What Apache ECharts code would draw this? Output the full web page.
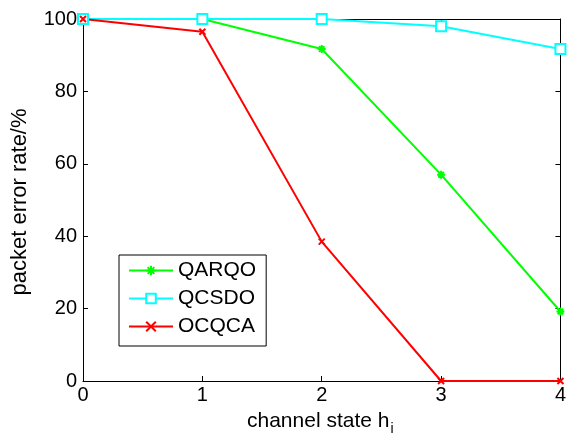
<!DOCTYPE html>
<html><head><meta charset="utf-8">
<script src="https://cdn.jsdelivr.net/npm/echarts@6/dist/echarts.min.js"></script>
<style>html,body{margin:0;padding:0;background:#fff}#c{width:569px;height:438px}</style>
</head><body><div id="c"></div>
<script>
const xValues = [0, 1, 2, 3, 4];
const seriesNames = ['QARQO', 'QCSDO', 'OCQCA'];
const qarqo = [100, 100, 91.7, 57, 19.2];
const qcsdo = [100, 100, 100, 98, 91.7];
const ocqca = [100, 96.5, 38.5, 0, 0];
const yTicks = [0, 20, 40, 60, 80, 100];
const xTicks = [0, 1, 2, 3, 4];

const font = 'Liberation Sans, Arial, sans-serif';
const chart = echarts.init(document.getElementById('c'));
const pair = arr => xValues.map((x, i) => [x, arr[i]]);
const asterisk = 'path://M5,0L5,10M0,5L10,5M1.5,1.5L8.5,8.5M8.5,1.5L1.5,8.5';
const cross = 'path://M0,0L10,10M10,0L0,10';
const baseAxis = {
  axisLine: {show: true, onZero: false, lineStyle: {color: '#000', width: 1}},
  axisTick: {show: true, inside: true, length: 5, lineStyle: {color: '#000'}},
  splitLine: {show: false}
};
chart.setOption({
  animation: false,
  backgroundColor: '#fff',
  grid: {left: 83, right: 5, top: 19, bottom: 57},
  xAxis: [
    Object.assign({type: 'value', min: 0, max: 4, interval: 1, position: 'bottom',
      axisLabel: {color: '#000', fontSize: 20, fontFamily: font, margin: 4}}, baseAxis),
    Object.assign({type: 'value', min: 0, max: 4, interval: 1, position: 'top',
      axisLabel: {show: false}}, baseAxis)
  ],
  yAxis: [
    Object.assign({type: 'value', min: 0, max: 100, interval: 20, position: 'left',
      axisLabel: {color: '#000', fontSize: 20, fontFamily: font, margin: 6}}, baseAxis),
    Object.assign({type: 'value', min: 0, max: 100, interval: 20, position: 'right',
      axisLabel: {show: false}}, baseAxis)
  ],
  legend: {
    orient: 'vertical', left: 119, top: 255,
    borderColor: '#000', borderWidth: 1, backgroundColor: '#fff',
    padding: [5, 10, 9, 9], itemGap: 7, itemWidth: 44, itemHeight: 12,
    textStyle: {color: '#000', fontSize: 21, fontFamily: font},
    data: seriesNames
  },
  series: [
    {name: seriesNames[0], type: 'line', data: pair(qarqo), symbol: asterisk, symbolSize: 8,
      lineStyle: {color: '#00ff00', width: 2}, itemStyle: {color: '#00ff00', borderColor: '#00ff00', borderWidth: 2}},
    {name: seriesNames[1], type: 'line', data: pair(qcsdo), symbol: 'rect', symbolSize: 10,
      lineStyle: {color: '#00ffff', width: 2}, itemStyle: {color: '#fff', borderColor: '#00ffff', borderWidth: 2}},
    {name: seriesNames[2], type: 'line', data: pair(ocqca), symbol: cross, symbolSize: 6,
      lineStyle: {color: '#ff0000', width: 2}, itemStyle: {color: '#ff0000', borderColor: '#ff0000', borderWidth: 2}}
  ],
  graphic: [
    {type: 'text', left: 247, top: 411, style: {
      text: '{a|channel state h}{s|i}', fill: '#000',
      rich: {a: {fontSize: 21, fontFamily: font, fill: '#000'}, s: {fontSize: 14, fontFamily: font, fill: '#000', padding: [16, 0, 0, 1]}}
    }},
    {type: 'text', x: 20, y: 202, rotation: Math.PI / 2, style: {
      text: 'packet error rate/%', fontSize: 22, fontFamily: font, fill: '#000', align: 'center', verticalAlign: 'middle'
    }}
  ]
});
</script></body></html>
